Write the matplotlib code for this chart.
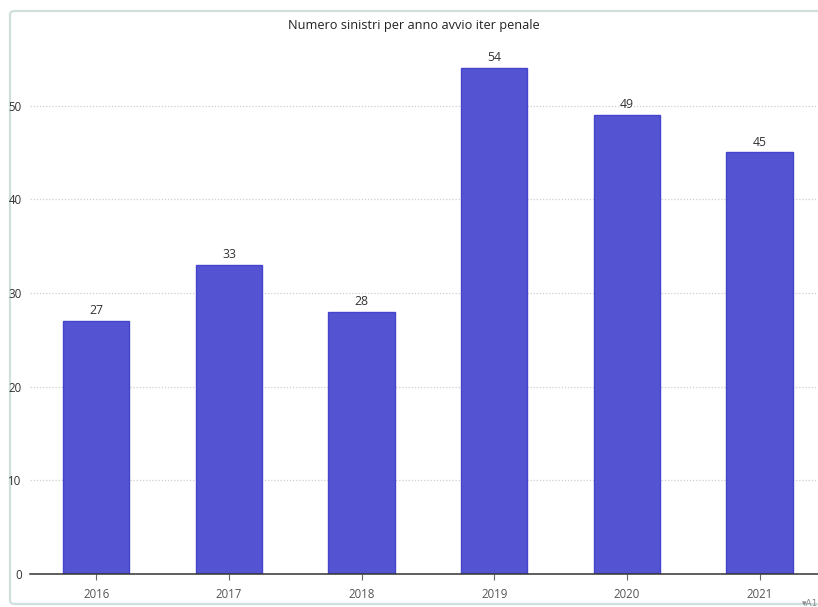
import matplotlib
matplotlib.use("Agg")
import matplotlib.pyplot as plt
from matplotlib.patches import FancyBboxPatch

# Data
years = ["2016", "2017", "2018", "2019", "2020", "2021"]
counts = [27, 33, 28, 54, 49, 45]
y_ticks = [0, 10, 20, 30, 40, 50]

W, H = 818, 607


def main() -> None:
    plt.rcParams["font.family"] = ["Open Sans", "DejaVu Sans"]
    fig = plt.figure(figsize=(W / 100, H / 100), dpi=100)

    # light rounded frame around the panel (behind the axes)
    frame = FancyBboxPatch((10 / W, 3 / H), 830 / W, 593 / H,
                           boxstyle="round,pad=0,rounding_size=0.006",
                           transform=fig.transFigure, facecolor="white",
                           edgecolor="#cfe0dc", linewidth=1.6, zorder=-5)
    fig.patches.append(frame)

    ax = fig.add_axes([30 / W, (H - 574) / H, (W - 30) / W, 534 / H])
    ax.set_facecolor("none")
    ax.set_zorder(2)

    x = list(range(len(years)))
    ax.bar(x, counts, width=0.5, color="#5454d2", edgecolor="#4444cc",
           linewidth=1.0, zorder=3)
    for xi, v in zip(x, counts):
        ax.text(xi, v + 0.4, str(v), ha="center", va="bottom",
                fontsize=8.8, color="#333333", zorder=4)

    ax.set_xlim(-0.5, 5.44)
    ax.set_ylim(0, 57)
    ax.set_xticks(x)
    ax.set_xticklabels(years, fontsize=8.3, color="#555555")
    ax.set_yticks(y_ticks)
    ax.set_yticklabels([str(t) for t in y_ticks], fontsize=8.3, color="#333333")

    ax.tick_params(axis="x", length=4, width=0.8, color="#666666", pad=6)
    ax.tick_params(axis="y", length=0, pad=6)
    for side in ["top", "right", "left"]:
        ax.spines[side].set_visible(False)
    ax.spines["bottom"].set_color("#333333")
    ax.spines["bottom"].set_linewidth(1.1)
    ax.spines["bottom"].set_zorder(5)

    ax.yaxis.grid(True, linestyle=(0, (1, 1.5)), color="#cfcfcf",
                  linewidth=0.9, zorder=0)
    ax.set_axisbelow(True)

    fig.text(414 / W, 1 - 25 / H, "Numero sinistri per anno avvio iter penale",
             ha="center", va="center", fontsize=9.2, color="#222222", zorder=3)
    fig.text(1.0, 1 - 604 / H, "\u25beA1", ha="right", va="center",
             fontsize=6.5, color="#888888", family=["DejaVu Sans"], zorder=3)

    fig.savefig("out.png", dpi=100)
    plt.close(fig)


if __name__ == "__main__":
    main()
